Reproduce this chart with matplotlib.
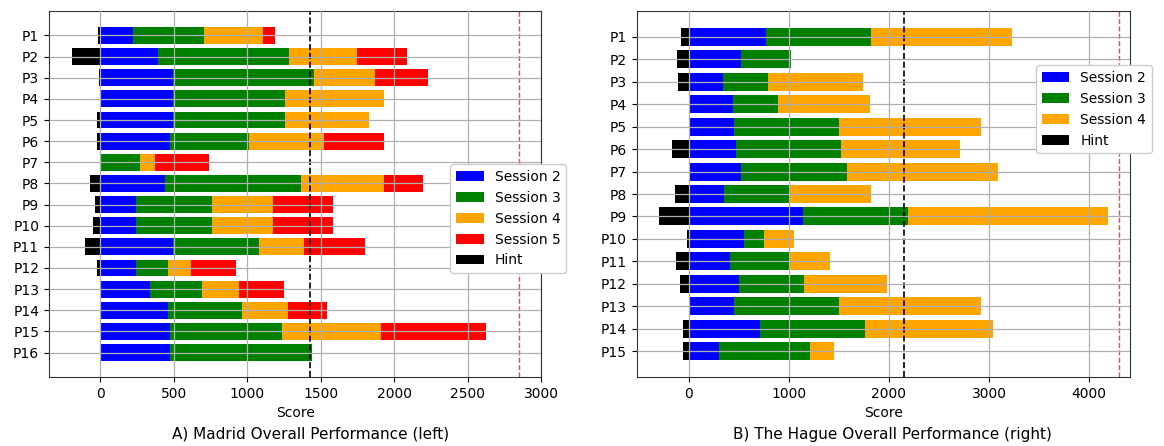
import numpy as np
import matplotlib
matplotlib.use("Agg")
import matplotlib.pyplot as plt

# Madrid (left) - segment sizes per session, hint drawn to the negative side
madrid_labels = ["P%d" % i for i in range(1, 17)]
madrid_hint = [18, 192, 10, 0, 25, 23, 0, 71, 35, 48, 106, 25, 0, 0, 0, 0]
madrid_s2 = [222, 391, 497, 497, 497, 472, 0, 442, 240, 240, 497, 240, 341, 460, 472, 472]
madrid_s3 = [485, 892, 957, 760, 760, 541, 273, 924, 523, 523, 581, 220, 351, 507, 765, 965]
madrid_s4 = [401, 464, 412, 670, 569, 507, 98, 566, 411, 411, 311, 154, 250, 308, 672, 0]
madrid_s5 = [79, 341, 361, 0, 0, 412, 369, 260, 409, 409, 409, 308, 310, 265, 717, 0]
madrid_half = 1425
madrid_max = 2850

# The Hague (right)
hague_labels = ["P%d" % i for i in range(1, 16)]
hague_hint = [77, 114, 103, 0, 0, 169, 0, 140, 294, 22, 125, 85, 0, 59, 59]
hague_s2 = [769, 523, 342, 445, 456, 475, 523, 350, 1144, 552, 412, 500, 456, 714, 302]
hague_s3 = [1053, 500, 449, 449, 1049, 1045, 1056, 647, 1049, 202, 589, 648, 1049, 1049, 905]
hague_s4 = [1409, 0, 953, 913, 1417, 1185, 1512, 828, 1995, 298, 412, 828, 1417, 1273, 243]
hague_half = 2150
hague_max = 4300

colors = {"Session 2": "blue", "Session 3": "green", "Session 4": "orange",
          "Session 5": "red", "Hint": "black"}

fig = plt.figure(figsize=(11.64, 4.46), dpi=100)
ax1 = fig.add_axes([0.042, 0.155, 0.423, 0.82])
ax2 = fig.add_axes([0.547, 0.155, 0.424, 0.82])


def draw(ax, labels, hint, sessions, half, mx, xlim):
    y = np.arange(len(labels))
    left = np.zeros(len(labels))
    handles = []
    for name, vals in sessions:
        vals = np.array(vals, dtype=float)
        h = ax.barh(y, vals, left=left, height=0.8, color=colors[name], label=name)
        handles.append(h)
        left = left + vals
    hint = np.array(hint, dtype=float)
    h = ax.barh(y, -hint, left=0, height=0.8, color=colors["Hint"], label="Hint")
    handles.append(h)
    ax.axvline(half, color="black", linestyle="--", linewidth=1.2)
    ax.axvline(mx, color="#c03c3c", linestyle="--", linewidth=1.0, alpha=0.85)
    ax.set_yticks(y)
    ax.set_yticklabels(labels, fontsize=10)
    ax.set_ylim(len(labels) - 1 + 1.15, -1.15)
    ax.set_xlim(*xlim)
    ax.tick_params(axis="x", labelsize=10)
    ax.set_xlabel("Score", fontsize=10)
    ax.grid(True, color="#b0b0b0", linewidth=0.9)
    ax.set_axisbelow(False)
    for s in ax.spines.values():
        s.set_color("#333333")
    return handles


h1 = draw(ax1, madrid_labels, madrid_hint,
          [("Session 2", madrid_s2), ("Session 3", madrid_s3),
           ("Session 4", madrid_s4), ("Session 5", madrid_s5)],
          madrid_half, madrid_max, (-350, 3000))
ax1.set_xticks([0, 500, 1000, 1500, 2000, 2500, 3000])

h2 = draw(ax2, hague_labels, hague_hint,
          [("Session 2", hague_s2), ("Session 3", hague_s3),
           ("Session 4", hague_s4)],
          hague_half, hague_max, (-520, 4410))
ax2.set_xticks([0, 1000, 2000, 3000, 4000])

ax1.legend(handles=h1, loc="upper left", bbox_to_anchor=(0.387, 0.632),
           bbox_transform=fig.transFigure, borderaxespad=0, fontsize=10, framealpha=1)
ax2.legend(handles=h2, loc="upper left", bbox_to_anchor=(0.890, 0.854),
           bbox_transform=fig.transFigure, borderaxespad=0, fontsize=10, framealpha=1)

fig.text(0.267, 0.026, "A) Madrid Overall Performance (left)", ha="center", va="center", fontsize=11)
fig.text(0.767, 0.026, "B) The Hague Overall Performance (right)", ha="center", va="center", fontsize=11)

fig.savefig("out.png", dpi=100)
